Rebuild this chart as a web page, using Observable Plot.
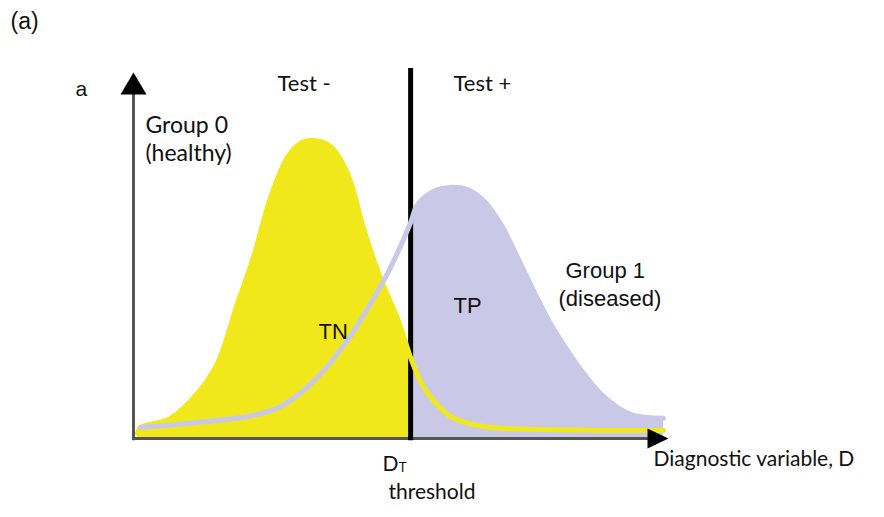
<!DOCTYPE html>
<html>
<head>
<meta charset="utf-8">
<script src="https://cdn.jsdelivr.net/npm/d3@7"></script>
<script src="https://cdn.jsdelivr.net/npm/@observablehq/plot@0.6"></script>
<style>
  html, body { margin: 0; padding: 0; background: #fff; }
  #chart svg { display: block; }
</style>
</head>
<body>
<div id="chart"></div>
<script>
// ---- data (x: diagnostic variable, y: density) ----
const threshold = 5.18;

const healthyX = [0.075, 0.131, 0.692, 1.196, 1.570, 1.944, 2.243, 2.561, 2.879, 3.121, 3.346, 3.682, 4.000, 4.299, 4.617, 4.935, 5.18, 5.364, 5.607, 5.925, 6.542, 7.477, 8.729, 9.907];
const healthyY = [0.014, 0.030, 0.055, 0.123, 0.205, 0.369, 0.495, 0.658, 0.768, 0.806, 0.814, 0.798, 0.724, 0.574, 0.437, 0.328, 0.221, 0.156, 0.104, 0.060, 0.033, 0.025, 0.022, 0.022];

const diseasedX = [0.131, 1.196, 2.131, 2.748, 3.364, 4.000, 4.430, 4.804, 5.18, 5.308, 5.607, 5.925, 6.243, 6.542, 6.860, 7.178, 7.477, 7.794, 8.112, 8.411, 8.729, 9.047, 9.346, 9.907];
const diseasedY = [0.030, 0.044, 0.060, 0.087, 0.156, 0.268, 0.369, 0.467, 0.590, 0.639, 0.675, 0.686, 0.680, 0.650, 0.587, 0.495, 0.404, 0.314, 0.240, 0.178, 0.123, 0.085, 0.063, 0.055];

const panelLabel = "(a)";
const yAxisLabel = "a";
const testLabels = ["Test -", "Test +"];
const group0Label = ["Group 0", "(healthy)"];
const group1Label = ["Group 1", "(diseased)"];
const regionLabels = ["TN", "TP"];
const thresholdLabels = ["D", "T", "threshold"];
const xAxisLabel = "Diagnostic variable, D";

// ---- tables built from the arrays ----
const healthy = healthyX.map((x, i) => ({x, y: healthyY[i]}));
const diseased = diseasedX.map((x, i) => ({x, y: diseasedY[i]}));

const YELLOW = "#f1e81c";
const LAVENDER = "#c9c9e7";
const AXIS = "#555555";
const CALIBRI = "Lato, 'Open Sans', sans-serif";
const ARIAL = "'Liberation Sans', Arial, sans-serif";

const arrowUp = { draw(ctx) { ctx.moveTo(0, 0); ctx.lineTo(-13, 22); ctx.lineTo(13, 22); ctx.closePath(); } };
const arrowRight = { draw(ctx) { ctx.moveTo(0, 0); ctx.lineTo(-21, -10); ctx.lineTo(-21, 10); ctx.closePath(); } };

const txt = (text, x, y, font, size, extra = {}) =>
  Plot.text([text], {x: () => x, y: () => y, text: d => d, textAnchor: "start", lineAnchor: "middle",
    fontFamily: font, fontSize: size, fill: "#111", ...extra});

const chart = Plot.plot({
  width: 884,
  height: 517,
  marginLeft: 133,
  marginRight: 216,
  marginTop: 72,
  marginBottom: 79,
  x: {domain: [0, 10], axis: null},
  y: {domain: [0, 1], axis: null},
  marks: [
    Plot.areaY(healthy.filter(d => d.x <= threshold), {x: "x", y: "y", fill: YELLOW, curve: "catmull-rom"}),
    Plot.areaY(diseased.filter(d => d.x >= threshold), {x: "x", y: "y", fill: LAVENDER, curve: "catmull-rom"}),
    Plot.ruleY([0], {x1: 0, x2: 9.7, stroke: AXIS, strokeWidth: 3}),
    Plot.ruleX([0], {y1: -0.006, y2: 0.95, stroke: AXIS, strokeWidth: 3}),
    Plot.ruleX([threshold], {y1: -0.006, y2: 1.011, stroke: "#000", strokeWidth: 5}),
    Plot.line(healthy, {x: "x", y: "y", stroke: YELLOW, strokeWidth: 5, curve: "catmull-rom"}),
    Plot.line(diseased, {x: "x", y: "y", stroke: LAVENDER, strokeWidth: 5, curve: "catmull-rom"}),
    Plot.dot([0], {x: () => 0, y: () => 1, symbol: arrowUp, fill: "#000", stroke: "none"}),
    Plot.dot([0], {x: () => 10, y: () => 0, symbol: arrowRight, fill: "#000", stroke: "none"}),
    txt(panelLabel, -2.299, 1.139, ARIAL, 23),
    txt(yAxisLabel, -1.084, 0.954, ARIAL, 21),
    txt(testLabels[0], 2.692, 0.969, CALIBRI, 22),
    txt(testLabels[1], 5.981, 0.969, CALIBRI, 22),
    txt(group0Label[0], 0.224, 0.855, CALIBRI, 23),
    txt(group0Label[1], 0.224, 0.779, CALIBRI, 23),
    txt(group1Label[0], 8.075, 0.459, ARIAL, 22),
    txt(group1Label[1], 7.944, 0.380, ARIAL, 22),
    txt(regionLabels[0], 3.458, 0.290, ARIAL, 22),
    txt(regionLabels[1], 5.981, 0.363, ARIAL, 22),
    txt(thresholdLabels[0], 4.654, -0.070, CALIBRI, 21),
    txt(thresholdLabels[1], 4.96, -0.080, CALIBRI, 13),
    txt(thresholdLabels[2], 4.766, -0.146, CALIBRI, 21),
    txt(xAxisLabel, 9.720, -0.056, CALIBRI, 21)
  ]
});
document.getElementById("chart").appendChild(chart);
</script>
</body>
</html>
